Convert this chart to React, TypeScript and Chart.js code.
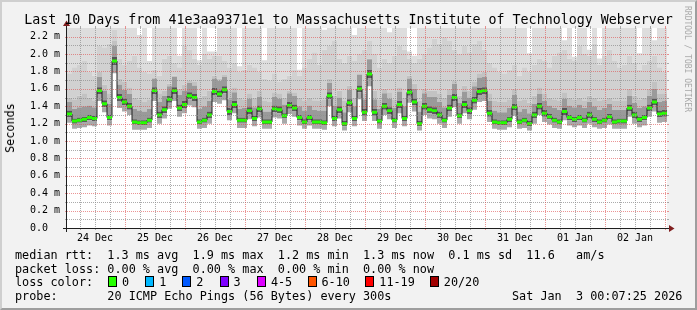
import React, { useEffect, useRef } from "react";
import { Chart, registerables } from "chart.js";

Chart.register(...registerables);

// ---- time axis (hours since 24 Dec 00:00) ----
const START_HOUR = 0.8;
const STEP_HOURS = 2;
const END_HOUR = 240.8;
const Y_MAX = 2.3;

const dayLabels = ["24 Dec", "25 Dec", "26 Dec", "27 Dec", "28 Dec", "29 Dec", "30 Dec", "31 Dec", "01 Jan", "02 Jan"];
const dayNoonHours = [12, 36, 60, 84, 108, 132, 156, 180, 204, 228];
const yTickValues = [0, 0.2, 0.4, 0.6, 0.8, 1.0, 1.2, 1.4, 1.6, 1.8, 2.0, 2.2];

// ---- series (ms), one value per 2 h step ----
const medianRtt = [
  1.31, 1.23, 1.24, 1.25, 1.27, 1.26, 1.58, 1.43, 1.27, 1.92,
  1.50, 1.45, 1.40, 1.22, 1.21, 1.21, 1.24, 1.58, 1.30, 1.36,
  1.48, 1.58, 1.38, 1.42, 1.52, 1.50, 1.22, 1.24, 1.30, 1.57,
  1.54, 1.59, 1.34, 1.42, 1.24, 1.24, 1.35, 1.26, 1.37, 1.22,
  1.22, 1.37, 1.36, 1.29, 1.41, 1.38, 1.27, 1.22, 1.27, 1.22,
  1.22, 1.21, 1.52, 1.26, 1.36, 1.20, 1.44, 1.26, 1.60, 1.33,
  1.77, 1.33, 1.23, 1.40, 1.35, 1.24, 1.42, 1.26, 1.56, 1.45,
  1.20, 1.40, 1.36, 1.35, 1.30, 1.24, 1.38, 1.50, 1.29, 1.42,
  1.35, 1.47, 1.57, 1.58, 1.32, 1.22, 1.21, 1.21, 1.25, 1.39,
  1.22, 1.24, 1.20, 1.30, 1.40, 1.32, 1.28, 1.24, 1.22, 1.34,
  1.27, 1.25, 1.27, 1.24, 1.30, 1.25, 1.22, 1.24, 1.28, 1.22,
  1.23, 1.23, 1.38, 1.30, 1.25, 1.27, 1.38, 1.45, 1.31, 1.32,
];

// distance from median down to the fastest ping
const belowSpread = [
  0.10, 0.09, 0.09, 0.09, 0.09, 0.09, 0.12, 0.10, 0.09, 0.14,
  0.12, 0.11, 0.10, 0.09, 0.08, 0.08, 0.09, 0.12, 0.10, 0.10,
  0.11, 0.12, 0.10, 0.10, 0.11, 0.11, 0.08, 0.09, 0.10, 0.12,
  0.11, 0.12, 0.10, 0.10, 0.09, 0.09, 0.10, 0.09, 0.10, 0.08,
  0.08, 0.10, 0.10, 0.09, 0.10, 0.10, 0.09, 0.08, 0.09, 0.08,
  0.08, 0.08, 0.12, 0.09, 0.10, 0.08, 0.11, 0.09, 0.12, 0.10,
  0.14, 0.10, 0.09, 0.10, 0.10, 0.09, 0.10, 0.09, 0.12, 0.11,
  0.08, 0.10, 0.10, 0.10, 0.10, 0.09, 0.10, 0.11, 0.09, 0.10,
  0.10, 0.11, 0.12, 0.12, 0.10, 0.08, 0.08, 0.08, 0.09, 0.10,
  0.08, 0.09, 0.08, 0.10, 0.10, 0.10, 0.09, 0.09, 0.08, 0.10,
  0.09, 0.09, 0.09, 0.09, 0.10, 0.09, 0.08, 0.09, 0.09, 0.08,
  0.09, 0.09, 0.10, 0.10, 0.09, 0.09, 0.10, 0.11, 0.10, 0.10,
];

// half width of the dark core of the smoke around the median
const coreSpread = [
  0.04, 0.03, 0.03, 0.03, 0.03, 0.03, 0.04, 0.04, 0.03, 0.05,
  0.04, 0.04, 0.04, 0.03, 0.03, 0.03, 0.03, 0.04, 0.04, 0.04,
  0.04, 0.04, 0.04, 0.04, 0.04, 0.04, 0.03, 0.03, 0.04, 0.04,
  0.04, 0.04, 0.04, 0.04, 0.03, 0.03, 0.04, 0.03, 0.04, 0.03,
  0.03, 0.04, 0.04, 0.03, 0.04, 0.04, 0.03, 0.03, 0.03, 0.03,
  0.03, 0.03, 0.04, 0.03, 0.04, 0.03, 0.04, 0.03, 0.04, 0.04,
  0.05, 0.04, 0.03, 0.04, 0.04, 0.03, 0.04, 0.03, 0.04, 0.04,
  0.03, 0.04, 0.04, 0.04, 0.04, 0.03, 0.04, 0.04, 0.03, 0.04,
  0.04, 0.04, 0.04, 0.04, 0.04, 0.03, 0.03, 0.03, 0.03, 0.04,
  0.03, 0.03, 0.03, 0.04, 0.04, 0.04, 0.03, 0.03, 0.03, 0.04,
  0.03, 0.03, 0.03, 0.03, 0.04, 0.03, 0.03, 0.03, 0.03, 0.03,
  0.03, 0.03, 0.04, 0.04, 0.03, 0.03, 0.04, 0.04, 0.04, 0.04,
];

// reach of the mid-grey smoke above the median
const midSpread = [
  0.14, 0.14, 0.15, 0.15, 0.14, 0.13, 0.16, 0.15, 0.16, 0.18,
  0.15, 0.14, 0.14, 0.15, 0.14, 0.13, 0.13, 0.14, 0.15, 0.16,
  0.15, 0.16, 0.15, 0.16, 0.15, 0.14, 0.15, 0.16, 0.16, 0.15,
  0.15, 0.15, 0.14, 0.14, 0.13, 0.14, 0.14, 0.13, 0.14, 0.12,
  0.12, 0.14, 0.13, 0.13, 0.14, 0.14, 0.13, 0.13, 0.14, 0.14,
  0.13, 0.14, 0.15, 0.15, 0.14, 0.13, 0.15, 0.14, 0.16, 0.15,
  0.17, 0.15, 0.14, 0.15, 0.14, 0.14, 0.15, 0.14, 0.16, 0.15,
  0.14, 0.15, 0.15, 0.16, 0.15, 0.15, 0.15, 0.16, 0.15, 0.15,
  0.15, 0.16, 0.16, 0.16, 0.14, 0.13, 0.12, 0.12, 0.13, 0.14,
  0.12, 0.13, 0.12, 0.13, 0.14, 0.14, 0.13, 0.14, 0.14, 0.15,
  0.14, 0.14, 0.15, 0.14, 0.15, 0.15, 0.14, 0.14, 0.15, 0.14,
  0.13, 0.13, 0.14, 0.14, 0.13, 0.13, 0.14, 0.15, 0.14, 0.14,
];

// top of the grey cloud (ms)
const cloudTop = [
  1.50, 1.48, 1.52, 1.55, 1.50, 1.47, 1.80, 1.65, 1.55, 2.15,
  1.72, 1.68, 1.62, 1.50, 1.48, 1.45, 1.48, 1.72, 1.55, 1.58,
  1.66, 1.75, 1.60, 1.65, 1.70, 1.68, 1.50, 1.52, 1.58, 1.75,
  1.72, 1.76, 1.58, 1.62, 1.50, 1.48, 1.55, 1.50, 1.58, 1.46,
  1.45, 1.56, 1.55, 1.50, 1.58, 1.56, 1.50, 1.46, 1.50, 1.47,
  1.46, 1.48, 1.72, 1.52, 1.58, 1.46, 1.64, 1.50, 1.78, 1.55,
  1.95, 1.58, 1.48, 1.60, 1.56, 1.48, 1.62, 1.50, 1.75, 1.66,
  1.46, 1.60, 1.58, 1.58, 1.55, 1.50, 1.60, 1.70, 1.52, 1.64,
  1.58, 1.68, 1.78, 1.80, 1.55, 1.46, 1.45, 1.45, 1.48, 1.60,
  1.46, 1.48, 1.44, 1.52, 1.62, 1.55, 1.50, 1.48, 1.46, 1.56,
  1.50, 1.48, 1.50, 1.47, 1.52, 1.50, 1.46, 1.48, 1.50, 1.46,
  1.46, 1.47, 1.60, 1.52, 1.48, 1.50, 1.60, 1.68, 1.54, 1.55,
];

// top of the lighter grey columns (ms)
const columnTop = [
  1.78, 1.85, 1.88, 1.92, 1.80, 1.75, 2.10, 2.08, 2.12, 2.28,
  1.95, 1.88, 1.92, 1.98, 1.85, 1.80, 1.78, 1.82, 1.75, 1.95,
  1.98, 1.90, 1.85, 2.10, 2.05, 1.95, 1.88, 2.00, 1.95, 1.98,
  1.98, 1.92, 1.85, 1.90, 1.80, 1.82, 1.88, 1.85, 1.80, 1.72,
  1.70, 1.78, 1.68, 1.72, 1.75, 1.82, 1.75, 1.85, 1.95, 2.02,
  1.88, 2.05, 2.10, 2.15, 1.95, 1.90, 1.98, 1.92, 2.00, 2.05,
  2.15, 2.00, 1.85, 1.95, 1.90, 1.98, 2.10, 2.05, 1.95, 1.90,
  1.95, 2.00, 2.08, 2.18, 2.12, 2.20, 2.15, 2.05, 2.00, 2.10,
  2.02, 2.12, 2.15, 2.05, 1.90, 1.85, 1.80, 1.78, 1.82, 1.88,
  1.75, 1.85, 1.80, 1.88, 1.95, 1.92, 1.85, 1.98, 2.02, 2.05,
  1.95, 1.92, 2.10, 2.00, 1.98, 2.12, 1.88, 1.98, 2.05, 1.92,
  1.85, 1.88, 1.98, 1.90, 1.82, 1.88, 1.92, 1.98, 1.85, 1.80,
];

// slowest ping (ms), clipped at the top of the graph
const pingMax = [
  2.30, 2.30, 2.30, 2.30, 2.30, 2.30, 2.30, 2.30, 2.30, 2.30,
  2.30, 2.30, 2.30, 2.30, 2.22, 2.30, 1.92, 2.30, 2.30, 2.30,
  2.30, 2.30, 1.98, 2.30, 2.30, 2.30, 1.93, 2.30, 2.03, 2.03,
  2.30, 2.30, 2.30, 2.30, 1.86, 2.30, 2.30, 2.30, 2.30, 1.93,
  2.30, 2.30, 2.30, 2.30, 2.30, 2.30, 1.82, 2.30, 2.30, 2.30,
  2.30, 2.28, 2.30, 2.30, 2.30, 2.30, 2.30, 2.22, 2.30, 2.30,
  2.30, 2.30, 2.30, 2.30, 2.25, 2.30, 2.30, 2.30, 2.03, 1.98,
  2.30, 2.30, 2.30, 2.30, 2.30, 2.30, 2.30, 2.30, 2.30, 2.30,
  2.30, 2.30, 2.30, 2.30, 2.30, 2.30, 2.30, 2.30, 2.30, 2.30,
  2.30, 2.30, 2.01, 2.30, 2.30, 2.30, 2.30, 2.30, 2.30, 2.16,
  2.30, 1.97, 2.30, 2.30, 2.05, 2.30, 1.95, 2.30, 2.30, 2.30,
  2.30, 2.30, 2.30, 2.30, 2.01, 2.30, 2.30, 2.16, 2.30, 2.30,
];

const lossLabels = ["0", "1", "2", "3", "4-5", "6-10", "11-19", "20/20"];
const lossColors = ["#26ff00", "#00b8ff", "#0059ff", "#7e00ff", "#dd00ff", "#ff5500", "#ff0000", "#a10000"];
const lossBoxX = [108, 145.3, 182.2, 219.5, 256.9, 307.5, 365.3, 429.8];

const MONO = '"DejaVu Sans Mono", "Liberation Mono", monospace';
const GRID = "rgba(143,143,143,0.75)";
const MGRID = "rgba(222,79,79,0.6)";
const AXIS = "#1f1f1f";
const ARROW = "#801f1f";
const MEDIAN_HALF = 0.017;

function toPoints(vals: number[]) {
  const pts = vals.map((v, i) => ({ x: START_HOUR + i * STEP_HOURS, y: v }));
  pts.push({ x: END_HOUR, y: vals[vals.length - 1] });
  return pts;
}

function buildDatasets() {
  const floor = medianRtt.map((m, i) => m - belowSpread[i]);
  const lowCore = medianRtt.map((m, i) => m - coreSpread[i]);
  const upCore = medianRtt.map((m, i) => m + coreSpread[i]);
  const upMid = medianRtt.map((m, i) => Math.max(m + midSpread[i], upCore[i]));
  const cloud = cloudTop.map((c, i) => Math.max(c, upMid[i]));
  const column = columnTop.map((c, i) => Math.min(Math.max(c, cloud[i]), pingMax[i]));
  const top = pingMax.map((p, i) => Math.max(p, column[i]));
  const band = (vals: number[], color: string | null) => ({
    data: toPoints(vals),
    stepped: true,
    borderWidth: 0,
    borderColor: "rgba(0,0,0,0)",
    pointRadius: 0,
    backgroundColor: color || "rgba(0,0,0,0)",
    fill: color ? "-1" : false,
    order: 10,
  });
  return [
    band(floor, null),
    band(lowCore, "#a9a9a9"),
    band(medianRtt, "#5c5c5c"),
    band(upCore, "#565656"),
    band(upMid, "#9a9a9a"),
    band(cloud, "#c2c2c2"),
    band(column, "#d1d1d1"),
    band(top, "#dddddd"),
    {
      data: toPoints(medianRtt),
      stepped: true,
      borderWidth: 1,
      borderColor: "#202020",
      pointRadius: 0,
      fill: false,
      order: 2,
    },
    { ...band(medianRtt.map((m) => m - MEDIAN_HALF), null), order: 1 },
    { ...band(medianRtt.map((m) => m + MEDIAN_HALF), lossColors[0]), order: 1 },
  ];
}

const rrdPlugin = {
  id: "rrdFrame",
  beforeDatasetsDraw(chart: any) {
    const { ctx, chartArea: a } = chart;
    ctx.save();
    ctx.fillStyle = "#ffffff";
    ctx.fillRect(a.left, a.top, a.right - a.left, a.bottom - a.top);
    ctx.restore();
  },
  afterDatasetsDraw(chart: any) {
    const { ctx, chartArea: a } = chart;
    const xs = chart.scales.x;
    const ys = chart.scales.y;
    const L = Math.round(a.left);
    const R = Math.round(a.right);
    const T = Math.round(a.top);
    const B = Math.round(a.bottom);
    ctx.save();
    ctx.lineWidth = 1;
    const seg = (x1: number, y1: number, x2: number, y2: number, color: string, dash: number[]) => {
      ctx.beginPath();
      ctx.setLineDash(dash);
      ctx.strokeStyle = color;
      ctx.moveTo(x1, y1);
      ctx.lineTo(x2, y2);
      ctx.stroke();
    };
    for (let k = 1; k / 10 < Y_MAX; k++) {
      const c = k % 2 === 0 ? MGRID : GRID;
      const py = Math.round(ys.getPixelForValue(k / 10)) + 0.5;
      seg(L, py, R, py, c, [1, 1]);
      seg(L - 2, py, L, py, c, []);
      seg(R, py, R + 2, py, c, []);
    }
    for (let h = 6; h < END_HOUR; h += 6) {
      if (h <= START_HOUR) continue;
      const c = h % 24 === 0 ? MGRID : GRID;
      const px = Math.round(xs.getPixelForValue(h)) + 0.5;
      seg(px, T, px, B, c, [1, 1]);
      seg(px, B, px, B + 2, c, []);
      seg(px, T - 2, px, T, c, []);
    }
    // axes
    seg(L - 4, B + 0.5, R + 4, B + 0.5, AXIS, []);
    seg(L - 0.5, B + 4, L - 0.5, T - 4, AXIS, []);
    // arrows
    ctx.fillStyle = ARROW;
    ctx.beginPath();
    ctx.moveTo(R + 2, B + 0.5 - 3.5);
    ctx.lineTo(R + 2, B + 0.5 + 3.5);
    ctx.lineTo(R + 7.5, B + 0.5);
    ctx.closePath();
    ctx.fill();
    ctx.beginPath();
    ctx.moveTo(L - 0.5 - 3.5, T - 2);
    ctx.lineTo(L - 0.5 + 3.5, T - 2);
    ctx.lineTo(L - 0.5, T - 7.5);
    ctx.closePath();
    ctx.fill();
    ctx.restore();
  },
};

export default function App() {
  const ref = useRef<HTMLCanvasElement>(null);

  useEffect(() => {
    const canvas = ref.current;
    if (!canvas) return;
    const chart = new Chart(canvas, {
      type: "line",
      data: { datasets: buildDatasets() as any },
      options: {
        animation: false,
        responsive: false,
        devicePixelRatio: 1,
        events: [],
        layout: { padding: { left: 0, right: 30, top: 28, bottom: 62 } },
        plugins: {
          legend: { display: false },
          tooltip: { enabled: false },
          title: { display: false },
        },
        scales: {
          x: {
            type: "linear",
            bounds: "data",
            min: START_HOUR,
            max: END_HOUR,
            afterFit: (s: any) => {
              s.height = 20;
            },
            afterBuildTicks: (s: any) => {
              s.ticks = dayNoonHours.map((v) => ({ value: v }));
            },
            ticks: {
              autoSkip: false,
              maxRotation: 0,
              minRotation: 0,
              padding: 4,
              color: "#000000",
              font: { family: MONO, size: 10 },
              callback: (_v: any, i: number) => dayLabels[i],
            },
            grid: { display: false, drawTicks: false },
            border: { display: false },
          },
          y: {
            type: "linear",
            bounds: "data",
            min: 0,
            max: Y_MAX,
            afterFit: (s: any) => {
              s.width = 67;
            },
            afterBuildTicks: (s: any) => {
              s.ticks = yTickValues.map((v) => ({ value: v }));
            },
            ticks: {
              autoSkip: false,
              padding: 7,
              color: "#000000",
              font: { family: MONO, size: 10 },
              callback: (v: any) => (Number(v) === 0 ? "0.0  " : Number(v).toFixed(1) + " m"),
            },
            grid: { display: false, drawTicks: false },
            border: { display: false },
          },
        },
      } as any,
      plugins: [rrdPlugin],
    });
    return () => chart.destroy();
  }, []);

  const legendFont = { fontFamily: MONO, fontSize: "11.8px", lineHeight: "14px", whiteSpace: "pre" as const };

  return (
    <div
      style={{
        position: "fixed",
        left: 0,
        top: 0,
        width: 697,
        height: 310,
        background: "#f2f2f2",
        overflow: "hidden",
        color: "#000",
        fontFamily: MONO,
      }}
    >
      <canvas ref={ref} width={697} height={310} style={{ position: "absolute", left: 0, top: 0, width: 697, height: 310 }} />
      <div
        style={{
          position: "absolute",
          left: 0,
          top: 9.75,
          width: 697,
          textAlign: "center",
          fontFamily: MONO,
          fontSize: "13.3px",
          lineHeight: "20px",
          whiteSpace: "pre",
        }}
      >
        Last 10 Days from 41e3aa9371e1 to Massachusetts Institute of Technology Webserver
      </div>
      <div
        style={{
          position: "absolute",
          left: 10,
          top: 128,
          transform: "translate(-50%, -50%) rotate(-90deg)",
          fontFamily: MONO,
          fontSize: "11.8px",
          lineHeight: "14px",
          whiteSpace: "pre",
        }}
      >
        Seconds
      </div>
      <div
        style={{
          position: "absolute",
          left: 687,
          top: 59,
          transform: "translate(-50%, -50%) rotate(90deg)",
          fontFamily: MONO,
          fontSize: "8px",
          lineHeight: "10px",
          color: "#a9a9a9",
          whiteSpace: "pre",
        }}
      >
        RRDTOOL / TOBI OETIKER
      </div>
      <div style={{ position: "absolute", left: 15, top: 247.7, ...legendFont }}>
        {"median rtt:  1.3 ms avg  1.9 ms max  1.2 ms min  1.3 ms now  0.1 ms sd  11.6   am/s"}
      </div>
      <div style={{ position: "absolute", left: 15, top: 261.5, ...legendFont }}>
        {"packet loss: 0.00 % avg  0.00 % max  0.00 % min  0.00 % now"}
      </div>
      <div style={{ position: "absolute", left: 15, top: 275.3, ...legendFont }}>{"loss color:"}</div>
      {lossLabels.map((lab, i) => (
        <React.Fragment key={lab}>
          <div
            style={{
              position: "absolute",
              left: lossBoxX[i],
              top: 276,
              width: 9,
              height: 11,
              boxSizing: "border-box",
              border: "1px solid #000",
              background: lossColors[i],
            }}
          />
          <div style={{ position: "absolute", left: lossBoxX[i] + 14, top: 275.3, ...legendFont }}>{lab}</div>
        </React.Fragment>
      ))}
      <div style={{ position: "absolute", left: 15, top: 289, ...legendFont }}>
        {"probe:       20 ICMP Echo Pings (56 Bytes) every 300s"}
      </div>
      <div style={{ position: "absolute", left: 512, top: 289, ...legendFont }}>{"Sat Jan  3 00:07:25 2026"}</div>
      <div
        style={{
          position: "absolute",
          left: 0,
          top: 0,
          width: 697,
          height: 310,
          boxSizing: "border-box",
          borderTop: "2px solid #cfcfcf",
          borderLeft: "2px solid #cfcfcf",
          borderRight: "2px solid #9e9e9e",
          borderBottom: "2px solid #9e9e9e",
          pointerEvents: "none",
        }}
      />
    </div>
  );
}
